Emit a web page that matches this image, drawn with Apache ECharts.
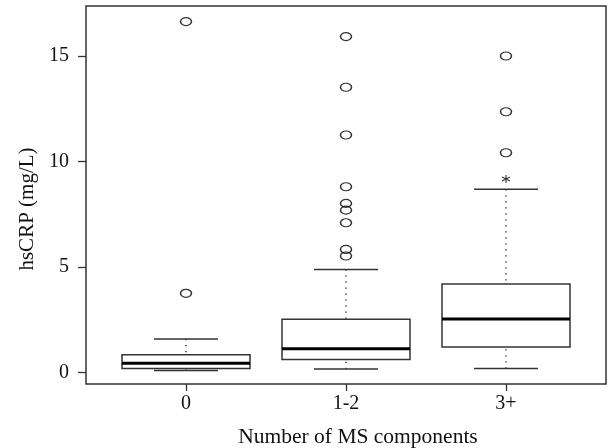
<!DOCTYPE html>
<html>
<head>
<meta charset="utf-8">
<script src="https://cdn.jsdelivr.net/npm/echarts@6/dist/echarts.min.js"></script>
<style>
  html, body { margin: 0; padding: 0; background: #fff; }
  #main { width: 610px; height: 448px; }
</style>
</head>
<body>
<div id="main"></div>
<script>
var groups = ['0', '1-2', '3+'];
var lowerWhisker = [0.1, 0.18, 0.2];
var q1 = [0.2, 0.63, 1.22];
var median = [0.45, 1.14, 2.54];
var q3 = [0.85, 2.53, 4.2];
var upperWhisker = [1.6, 4.89, 8.69];
// outliers per group (circles)
var outliers0 = [3.76, 16.63];
var outliers12 = [15.92, 13.52, 11.26, 8.81, 8.02, 7.7, 7.1, 5.84, 5.53];
var outliers3 = [15.0, 12.36, 10.42];
// marked with an asterisk
var starred3 = [9.18];
var yTicks = [0, 5, 10, 15];

var font = 'Liberation Serif';
var ink = '#333';

var boxData = groups.map(function (g, i) {
    return [i + 1, lowerWhisker[i], q1[i], median[i], q3[i], upperWhisker[i]];
});
var circleData = [];
[outliers0, outliers12, outliers3].forEach(function (arr, i) {
    arr.forEach(function (v) { circleData.push([i + 1, v]); });
});
var starData = starred3.map(function (v) { return [3, v]; });

function renderBox(params, api) {
    var x = api.value(0);
    var lo = api.coord([x, api.value(1)]);
    var b1 = api.coord([x - 0.4, api.value(2)]);
    var b2 = api.coord([x + 0.4, api.value(4)]);
    var m1 = api.coord([x - 0.4, api.value(3)]);
    var m2 = api.coord([x + 0.4, api.value(3)]);
    var hi = api.coord([x, api.value(5)]);
    var capL = api.coord([x - 0.2, 0])[0];
    var capR = api.coord([x + 0.2, 0])[0];
    var dotted = { stroke: '#000', lineWidth: 1.2, lineDash: [1.2, 4.8] };
    var solid = { stroke: ink, lineWidth: 1.5 };
    return {
        type: 'group',
        children: [
            { type: 'line', shape: { x1: hi[0], y1: hi[1], x2: hi[0], y2: b2[1] }, style: dotted },
            { type: 'line', shape: { x1: lo[0], y1: lo[1], x2: lo[0], y2: b1[1] }, style: dotted },
            { type: 'line', shape: { x1: capL, y1: hi[1], x2: capR, y2: hi[1] }, style: solid },
            { type: 'line', shape: { x1: capL, y1: lo[1], x2: capR, y2: lo[1] }, style: solid },
            { type: 'rect', shape: { x: b1[0], y: b2[1], width: b2[0] - b1[0], height: b1[1] - b2[1] },
              style: { fill: '#fff', stroke: ink, lineWidth: 1.5 } },
            { type: 'line', shape: { x1: m1[0], y1: m1[1], x2: m2[0], y2: m2[1] },
              style: { stroke: '#000', lineWidth: 3 } }
        ]
    };
}

var chart = echarts.init(document.getElementById('main'));
var option = {
    backgroundColor: '#fff',
    animation: false,
    grid: {
        left: 86, right: 4, top: 6, bottom: 64,
        outerBoundsMode: 'none',
        show: true, borderColor: ink, borderWidth: 1.5, backgroundColor: 'transparent'
    },
    xAxis: {
        type: 'value',
        min: 0.375,
        max: 3.625,
        name: 'Number of MS components',
        nameLocation: 'middle',
        nameGap: 42,
        nameTextStyle: { fontFamily: font, fontSize: 21.5, color: '#111', padding: [0, 0, 0, 24] },
        axisLine: { show: false, onZero: false },
        splitLine: { show: false },
        axisTick: { show: true, inside: false, customValues: [1, 2, 3], length: 7, lineStyle: { color: ink, width: 1.3 } },
        axisLabel: {
            customValues: [1, 2, 3],
            margin: 10,
            fontFamily: font, fontSize: 20, color: '#111',
            formatter: function (v) { return groups[Math.round(v) - 1]; }
        }
    },
    yAxis: {
        type: 'value',
        min: -0.535,
        max: 17.37,
        name: 'hsCRP (mg/L)',
        nameLocation: 'middle',
        nameGap: 47,
        nameTextStyle: { fontFamily: font, fontSize: 21, color: '#111', padding: [0, 28, 0, 0] },
        axisLine: { show: false, onZero: false },
        splitLine: { show: false },
        axisTick: { show: true, inside: false, customValues: yTicks, length: 8, lineStyle: { color: ink, width: 1.3 } },
        axisLabel: {
            customValues: yTicks,
            margin: 17,
            fontFamily: font, fontSize: 20, color: '#111'
        }
    },
    series: [
        {
            type: 'custom',
            renderItem: renderBox,
            data: boxData,
            encode: { x: 0, y: [1, 2, 3, 4, 5] },
            z: 2
        },
        {
            type: 'scatter',
            data: circleData,
            symbol: 'circle',
            symbolSize: [11, 8],
            itemStyle: { color: 'rgba(0,0,0,0)', borderColor: '#000', borderWidth: 1.3 },
            z: 3
        },
        {
            type: 'scatter',
            data: starData,
            symbol: 'path://M0,-10L0,10M-8.66,-5L8.66,5M-8.66,5L8.66,-5',
            symbolSize: 8,
            itemStyle: { color: 'rgba(0,0,0,0)', borderColor: '#000', borderWidth: 1.1 },
            z: 3
        }
    ]
};
chart.setOption(option);
</script>
</body>
</html>
